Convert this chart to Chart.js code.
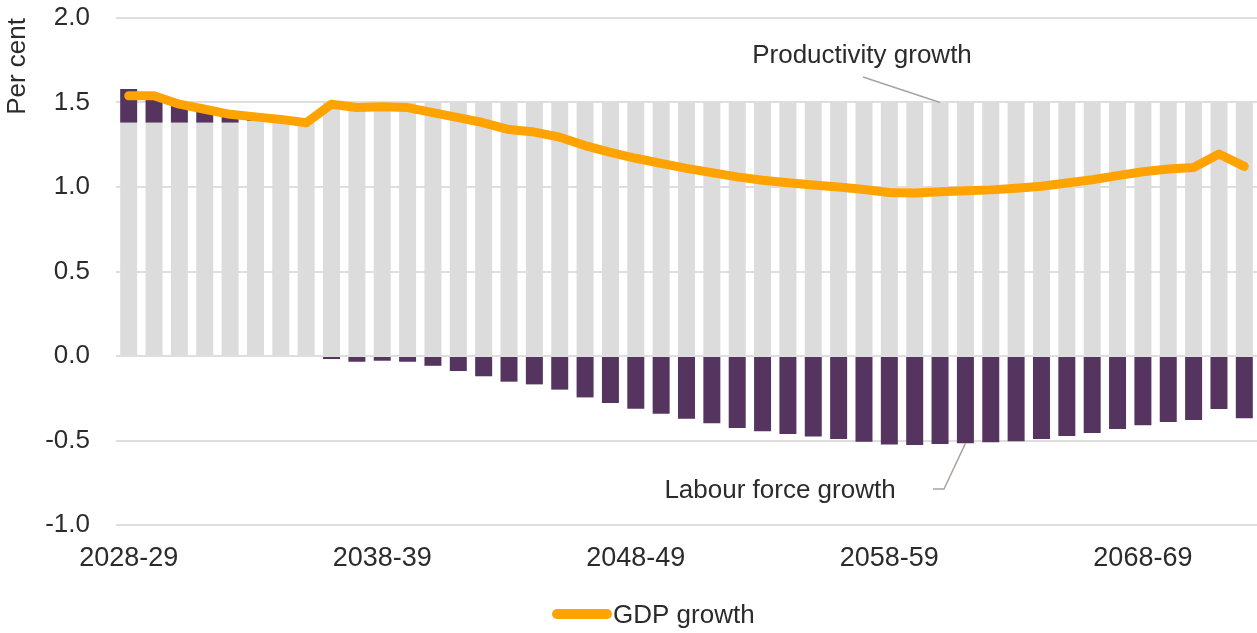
<!DOCTYPE html>
<html>
<head>
<meta charset="utf-8">
<script src="https://cdn.jsdelivr.net/npm/chart.js@4/dist/chart.umd.min.js"></script>
<style>
html,body{margin:0;padding:0;background:#fff;overflow:hidden}
#wrap{width:1257px;height:633px;position:relative}
canvas{display:block}
</style>
</head>
<body>
<div id="wrap"><canvas id="c" width="1257" height="633"></canvas></div>
<script>
// ---------- data ----------
const categories = [
  "2028-29","2029-30","2030-31","2031-32","2032-33","2033-34","2034-35","2035-36","2036-37","2037-38",
  "2038-39","2039-40","2040-41","2041-42","2042-43","2043-44","2044-45","2045-46","2046-47","2047-48",
  "2048-49","2049-50","2050-51","2051-52","2052-53","2053-54","2054-55","2055-56","2056-57","2057-58",
  "2058-59","2059-60","2060-61","2061-62","2062-63","2063-64","2064-65","2065-66","2066-67","2067-68",
  "2068-69","2069-70","2070-71","2071-72","2072-73"
];
const xTickLabels = ["2028-29","2038-39","2048-49","2058-59","2068-69"];
const productivityGrowth = [
  1.38,1.38,1.38,1.38,1.38,1.39,1.39,1.38,1.50,1.50,
  1.50,1.50,1.50,1.50,1.50,1.50,1.50,1.50,1.50,1.50,
  1.50,1.50,1.50,1.50,1.50,1.50,1.50,1.50,1.50,1.50,
  1.50,1.50,1.50,1.50,1.50,1.50,1.50,1.50,1.50,1.50,
  1.50,1.50,1.50,1.50,1.50
];
const labourForceGrowth = [
  0.20,0.17,0.12,0.08,0.04,0.02,0.01,0.00,-0.018,-0.034,
  -0.028,-0.034,-0.058,-0.089,-0.120,-0.152,-0.168,-0.199,-0.245,-0.278,
  -0.312,-0.341,-0.371,-0.398,-0.426,-0.446,-0.462,-0.477,-0.491,-0.507,
  -0.523,-0.527,-0.521,-0.517,-0.511,-0.505,-0.491,-0.473,-0.456,-0.432,
  -0.410,-0.391,-0.379,-0.314,-0.369
];
const gdpGrowth = [
  1.54,1.54,1.49,1.46,1.43,1.415,1.40,1.38,1.49,1.47,
  1.475,1.47,1.44,1.41,1.38,1.34,1.325,1.295,1.245,1.205,
  1.17,1.14,1.11,1.085,1.06,1.04,1.025,1.012,1.00,0.985,
  0.967,0.964,0.972,0.978,0.983,0.992,1.004,1.024,1.043,1.067,
  1.09,1.107,1.115,1.195,1.122
];
const yTickMin = -1.0, yTickMax = 2.0, yTickStep = 0.5;

// ---------- style ----------
const FONT = "'Liberation Sans', Arial, sans-serif";
const TEXT = '#2b2b2b';
const GREY = '#dcdcdc';
const PURPLE = '#55355f';
const ORANGE = '#ffa300';
const LEADER = '#aaa39d';

const annotations = {
  id: 'annotations',
  afterDatasetsDraw(chart) {
    const {ctx, scales: {x, y}} = chart;
    ctx.save();
    ctx.font = '26px ' + FONT;
    ctx.fillStyle = TEXT;
    ctx.textAlign = 'center';
    ctx.textBaseline = 'alphabetic';
    // Productivity growth
    ctx.fillText('Productivity growth', 862, 62.5);
    const px = x.getPixelForValue(32), py = y.getPixelForValue(productivityGrowth[32]);
    ctx.strokeStyle = LEADER;
    ctx.lineWidth = 1.5;
    ctx.beginPath();
    ctx.moveTo(px - 77, py - 25.5);
    ctx.lineTo(px, py);
    ctx.stroke();
    // Labour force growth
    ctx.fillText('Labour force growth', 780, 497.5);
    const lx = x.getPixelForValue(33), ly = y.getPixelForValue(labourForceGrowth[33]);
    ctx.beginPath();
    ctx.moveTo(933, 489);
    ctx.lineTo(944, 489);
    ctx.lineTo(lx, ly);
    ctx.stroke();
    // Legend
    ctx.strokeStyle = ORANGE;
    ctx.lineWidth = 10;
    ctx.lineCap = 'round';
    ctx.beginPath();
    ctx.moveTo(557, 614);
    ctx.lineTo(607, 614);
    ctx.stroke();
    ctx.textAlign = 'left';
    ctx.fillText('GDP growth', 613, 623.3);
    ctx.restore();
  }
};

new Chart(document.getElementById('c'), {
  data: {
    labels: categories,
    datasets: [
      {
        type: 'line',
        label: 'GDP growth',
        data: gdpGrowth,
        borderColor: ORANGE,
        backgroundColor: ORANGE,
        borderWidth: 9,
        borderCapStyle: 'round',
        borderJoinStyle: 'round',
        pointRadius: 0,
        tension: 0,
        stack: 'gdp',
        order: 0
      },
      {
        type: 'bar',
        label: 'Productivity growth',
        data: productivityGrowth,
        backgroundColor: GREY,
        stack: 'bars',
        order: 1,
        barPercentage: 0.67,
        categoryPercentage: 1.0
      },
      {
        type: 'bar',
        label: 'Labour force growth',
        data: labourForceGrowth,
        backgroundColor: PURPLE,
        stack: 'bars',
        order: 1,
        barPercentage: 0.67,
        categoryPercentage: 1.0
      }
    ]
  },
  options: {
    responsive: false,
    animation: false,
    devicePixelRatio: 1,
    layout: { padding: { top: 18, left: 0, right: 0, bottom: 48 } },
    plugins: {
      legend: { display: false },
      tooltip: { enabled: false }
    },
    scales: {
      x: {
        stacked: true,
        grid: { display: false, drawTicks: false },
        border: { display: false },
        ticks: {
          autoSkip: false,
          maxRotation: 0,
          minRotation: 0,
          padding: 17,
          color: TEXT,
          font: { family: FONT, size: 27 },
          callback: function (v) {
            const l = this.getLabelForValue(v);
            return xTickLabels.includes(l) ? l : '';
          }
        },
        afterFit: (s) => { s.height = 60; s.paddingLeft = 0; s.paddingRight = 0; }
      },
      y: {
        stacked: true,
        min: yTickMin,
        max: yTickMax,
        grid: { color: '#dedede', lineWidth: 2, drawTicks: false },
        border: { display: false },
        ticks: {
          stepSize: yTickStep,
          padding: 26,
          color: TEXT,
          font: { family: FONT, size: 26 },
          callback: (v) => Number(v).toFixed(1)
        },
        title: {
          display: true,
          text: 'Per cent',
          align: 'end',
          color: TEXT,
          font: { family: FONT, size: 26 },
          padding: { top: 2, bottom: 0 }
        },
        afterFit: (s) => { s.width = 116; s.paddingTop = 0; s.paddingBottom = 0; }
      }
    }
  },
  plugins: [annotations]
});
</script>
</body>
</html>
